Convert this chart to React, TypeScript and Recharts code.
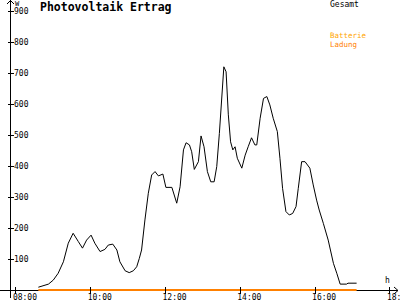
import { LineChart, Line, XAxis, YAxis } from "recharts";

// Uhrzeit in Stunden, Leistung in W
const TIMES = [
  8.6, 8.87, 9.0, 9.13, 9.27, 9.4, 9.53, 9.67, 9.78, 9.89,
  10.01, 10.11, 10.25, 10.38, 10.47, 10.59, 10.7, 10.78, 10.92, 11.03,
  11.14, 11.23, 11.3, 11.36, 11.45, 11.54, 11.63, 11.72, 11.81, 11.93,
  12.01, 12.17, 12.3, 12.39, 12.48, 12.55, 12.64, 12.7, 12.77, 12.88,
  12.95, 13.03, 13.12, 13.21, 13.3, 13.37, 13.44, 13.56, 13.62, 13.68,
  13.74, 13.8, 13.86, 13.92, 14.04, 14.13, 14.21, 14.3, 14.39, 14.44,
  14.53, 14.62, 14.71, 14.79, 14.88, 14.99, 15.06, 15.13, 15.22, 15.31,
  15.4, 15.49, 15.55, 15.64, 15.73, 15.86, 15.95, 16.04, 16.11, 16.22,
  16.35, 16.49, 16.58, 16.67, 16.84, 16.88, 17.11,
];
const GESAMT = [
  9, 19, 32, 54, 91, 151, 183, 156, 135, 161,
  177, 151, 124, 131, 145, 148, 129, 91, 62, 56,
  62, 75, 102, 129, 226, 312, 371, 382, 368, 374,
  331, 331, 280, 333, 452, 475, 468, 446, 389, 414,
  497, 462, 382, 349, 349, 398, 505, 720, 704, 565,
  478, 452, 462, 425, 393, 435, 462, 491, 468, 468,
  554, 618, 624, 597, 554, 511, 425, 328, 253, 242,
  247, 269, 328, 414, 414, 393, 339, 290, 258, 215,
  161, 86, 54, 19, 19, 22, 22,
];
// Ladung: Anfang und Ende, dazwischen verbunden
const LADUNG_TIMES = [8.6, 17.11];
const LADUNG = [0, 0];

const X_TICKS = [8, 10, 12, 14, 16, 18];
const X_LABELS = ["08:00", "10:00", "12:00", "14:00", "16:00", "18:00"];
const Y_TICKS = [100, 200, 300, 400, 500, 600, 700, 800, 900];

const data = TIMES.map((t, i) => {
  const j = LADUNG_TIMES.indexOf(t);
  return { t, gesamt: GESAMT[i], ladung: j >= 0 ? LADUNG[j] : null };
});

const FONT = "'DejaVu Sans Mono', monospace";

function XTick(props: any) {
  const { x, payload } = props;
  const idx = X_TICKS.indexOf(payload.value);
  const y = 290;
  return (
    <g>
      <line x1={x} y1={y - 3} x2={x} y2={y + 4} stroke="#000" shapeRendering="crispEdges" />
      <text x={x - 3} y={y + 9.5} fontFamily={FONT} fontSize={8} fill="#000">
        {X_LABELS[idx]}
      </text>
    </g>
  );
}

function YTick(props: any) {
  const { y, payload } = props;
  const x = 10.5;
  return (
    <g>
      <line x1={x - 3} y1={y} x2={x + 3} y2={y} stroke="#000" shapeRendering="crispEdges" />
      <text x={x + 3.5} y={y + 3} fontFamily={FONT} fontSize={8} fill="#000">
        {payload.value}
      </text>
    </g>
  );
}

export default function App() {
  return (
    <div style={{ position: "absolute", left: 0, top: 0, width: 400, height: 300, background: "#fff" }}>
      <svg width={400} height={300} style={{ position: "absolute", left: 0, top: 0 }}>
        <g stroke="#000" strokeWidth={1} fill="none" shapeRendering="crispEdges">
          <line x1={0} y1={290.5} x2={398} y2={290.5} />
          <line x1={10.5} y1={0} x2={10.5} y2={298} />
        </g>
        <g stroke="#000" strokeWidth={1} fill="none">
          <polyline points="394,287 398,290.5 394,294" />
          <polyline points="7,4 10.5,0.5 14,4" />
        </g>
        <text x={15} y={6} fontFamily={FONT} fontSize={7} fill="#000">W</text>
        <text x={385} y={283} fontFamily={FONT} fontSize={8} fill="#000">h</text>
        <text x={40} y={11} fontFamily={FONT} fontSize={11.5} fontWeight="bold" fill="#000">
          Photovoltaik Ertrag
        </text>
        <text x={330} y={7} fontFamily={FONT} fontSize={8} fill="#000">Gesamt</text>
        <text x={330} y={38} fontFamily={FONT} fontSize={7.5} fill="#ffa500">Batterie</text>
        <text x={330} y={46.5} fontFamily={FONT} fontSize={7.5} fill="#ff8000">Ladung</text>
      </svg>
      <div style={{ position: "absolute", left: 0, top: 0 }}>
        <LineChart width={400} height={300} data={data} margin={{ top: 11, right: 0, bottom: 0, left: 0 }}>
          <XAxis
            dataKey="t"
            type="number"
            domain={[7.842, 18.27]}
            ticks={X_TICKS}
            interval={0}
            height={10}
            axisLine={false}
            tickLine={false}
            tick={<XTick />}
          />
          <YAxis
            type="number"
            domain={[0, 900]}
            ticks={Y_TICKS}
            interval={0}
            width={10}
            axisLine={false}
            tickLine={false}
            tick={<YTick />}
          />
          <Line
            dataKey="ladung"
            type="linear"
            stroke="#ff8000"
            strokeWidth={2}
            dot={false}
            connectNulls
            isAnimationActive={false}
          />
          <Line
            dataKey="gesamt"
            type="linear"
            stroke="#000"
            strokeWidth={1}
            dot={false}
            isAnimationActive={false}
          />
        </LineChart>
      </div>
    </div>
  );
}
